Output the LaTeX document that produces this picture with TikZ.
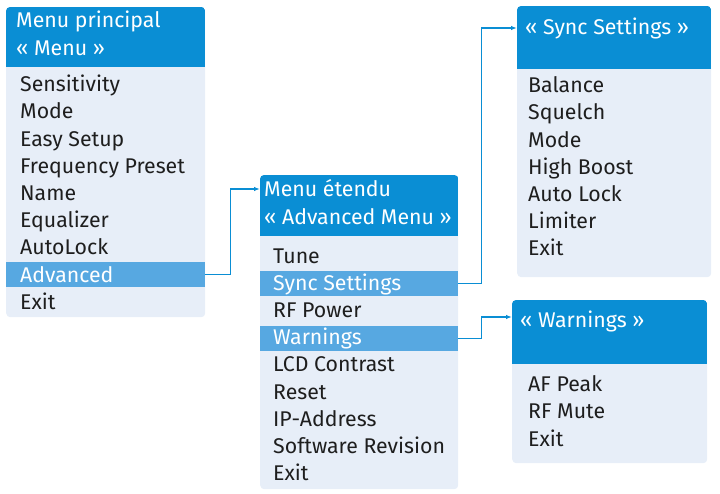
\documentclass[tikz,border=0pt]{standalone}
\usepackage{fontspec}
\setmainfont{Fira Sans}
\usetikzlibrary{arrows.meta}
\definecolor{hdrc}{HTML}{0A8ED4}
\definecolor{bodyc}{HTML}{E7EEF8}
\definecolor{hlc}{HTML}{57A8E1}
\definecolor{txtc}{HTML}{1E1E1E}
\tikzset{
  box/.style={fill=bodyc, rounded corners=4pt, inner sep=0pt, anchor=north west},
  hlrow/.style={fill=hlc, inner sep=0pt, anchor=north west, minimum height=25pt},
  item/.style={anchor=base west, inner sep=0pt, text=txtc, font=\fontsize{21.3}{24}\selectfont},
  hitem/.style={item, text=white},
  conn/.style={draw=hdrc, line width=1.2pt, -{Latex[length=6pt,width=4.5pt]}}
}
\newcommand{\hdrfill}[2]{%
  \begin{scope}
    \clip[rounded corners=4pt] (#1.north west) rectangle (#1.south east);
    \fill[hdrc] (#1.north west) rectangle ([yshift=-#2pt]#1.north east);
  \end{scope}}
\begin{document}
\begin{tikzpicture}[x=1pt,y=-1pt]
\useasboundingbox (0,0) rectangle (720,493);
% Box 1
\node[box, minimum width=199pt, minimum height=310pt] (b1) at (6,7) {};
\hdrfill{b1}{60}
\node[hlrow, minimum width=199pt] (hl1) at (6,262) {};
\node[hitem] (t11) at (16,27.5) {Menu principal};
\node[hitem] (t12) at (16,55.5) {« Menu »};
\foreach \t [count=\i from 0] in {Sensitivity,Mode,Easy Setup,Frequency Preset,Name,Equalizer,AutoLock}
  \node[item] (a\i) at (20,91.7+27.2*\i) {\t};
\node[hitem] (a7) at (20,282) {Advanced};
\node[item] (a8) at (20,309.5) {Exit};
% Box 2
\node[box, minimum width=198pt, minimum height=314pt] (b2) at (260,175) {};
\hdrfill{b2}{61}
\node[hlrow, minimum width=198pt] (hl2) at (260,271) {};
\node[hlrow, minimum width=198pt] (hl3) at (260,326) {};
\node[hitem] (t21) at (264,196) {Menu étendu};
\node[hitem] (t22) at (264,224) {« Advanced Menu »};
\node[item] (c0) at (273,263) {Tune};
\node[hitem] (c1) at (273,290.2) {Sync Settings};
\node[item] (c2) at (273,317.4) {RF Power};
\node[hitem] (c3) at (273,344.6) {Warnings};
\foreach \t [count=\i from 4] in {LCD Contrast,Reset,IP-Address,Software Revision,Exit}
  \node[item] (c\i) at (273,263+27.2*\i) {\t};
% Box 3
\node[box, minimum width=194pt, minimum height=271pt] (b3) at (517,6) {};
\hdrfill{b3}{63}
\node[hitem] (t31) at (525,34.5) {« Sync Settings »};
\foreach \t [count=\i from 0] in {Balance,Squelch,Mode,High Boost,Auto Lock,Limiter,Exit}
  \node[item] (d\i) at (528,92.7+27.2*\i) {\t};
% Box 4
\node[box, minimum width=195pt, minimum height=163pt] (b4) at (512,300) {};
\hdrfill{b4}{64}
\node[hitem] (t41) at (520,327) {« Warnings »};
\foreach \t [count=\i from 0] in {AF Peak,RF Mute,Exit}
  \node[item] (e\i) at (528,391.7+27.2*\i) {\t};
% connectors
\draw[conn] (hl1.east) -- ++(25,0) |- (b2.west |- 0,189);
\draw[conn] (hl2.east) -- ++(23,0) |- (b3.west |- 0,28);
\draw[conn] (hl3.east) -- ++(23,0) |- (b4.west |- 0,317);
\end{tikzpicture}
\end{document}
